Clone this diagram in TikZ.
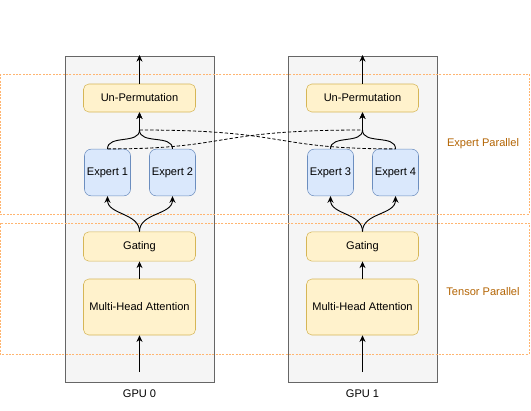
\documentclass[tikz,border=0pt]{standalone}
\usepackage{fontspec}
\setmainfont{Liberation Sans}
\usetikzlibrary{positioning,arrows.meta}
\definecolor{gpufill}{HTML}{F5F5F5}
\definecolor{gpuline}{HTML}{666666}
\definecolor{yelfill}{HTML}{FFF2CC}
\definecolor{yelline}{HTML}{D6B656}
\definecolor{blufill}{HTML}{DAE8FC}
\definecolor{bluline}{HTML}{6C8EBF}
\definecolor{orgline}{HTML}{FFB570}
\definecolor{orgtext}{HTML}{B46504}
\tikzset{
  gpubox/.style={draw=gpuline,fill=gpufill,line width=0.6pt},
  yelbox/.style={draw=yelline,fill=yelfill,rounded corners=4pt,minimum width=84pt,inner sep=0pt},
  expbox/.style={draw=bluline,fill=blufill,rounded corners=5pt,minimum width=34.5pt,minimum height=35pt,inner sep=0pt},
  parbox/.style={draw=orgline,dash pattern=on 1.5pt off 1pt,line width=0.6pt},
  flow/.style={-{Stealth[length=5pt,width=4.5pt]},line width=0.7pt},
  cross/.style={dash pattern=on 2.5pt off 1.5pt,line width=0.6pt},
}
\begin{document}
\begin{tikzpicture}[x=0.75pt,y=-0.75pt,font=\fontsize{8.3}{10}\selectfont]
    \useasboundingbox (0,0) rectangle (531,410);
    \fill[white] (0,0) rectangle (531,410);
    \draw[gpubox] (65,56) rectangle (214,382);%GPU 0
    \draw[gpubox] (288,56) rectangle (437,382);%GPU 1
    \draw[parbox] (0,74) rectangle (529,214);
    \draw[parbox] (0,223) rectangle (529,354);
    \node[text=orgtext] (eplabel) at (483,144) {Expert Parallel};
    \node[text=orgtext] (tplabel) at (483,292) {Tensor Parallel};
    \foreach \g/\c/\a/\b in {0/139.5/1/2,1/362.5/3/4} {
        \node[yelbox,minimum height=21pt] (up\g) at (\c,98) {Un-Permutation};
        \node[expbox] (ea\g) at (\c-32,172.5) {Expert \a};
        \node[expbox] (eb\g) at (\c+33,172.5) {Expert \b};
        \node[yelbox,minimum height=22pt] (gate\g) at (\c,246.5) {Gating};
        \node[yelbox,minimum height=42pt] (mha\g) at (\c,307) {Multi-Head Attention};
        \node (gpu\g) at (\c,394) {GPU \g};
        \coordinate (mg\g) at (\c,130);%merge point
        \coordinate (in\g) at (\c,372);
        \coordinate (out\g) at (\c,55);
        \draw[flow] (in\g) -- (mha\g);
        \draw[flow] (mha\g) -- (gate\g);
        \draw[flow] (gate\g.north) to[out=90,in=-90] (ea\g.south);
        \draw[flow] (gate\g.north) to[out=90,in=-90] (eb\g.south);
        \draw[flow] (ea\g.north) to[out=90,in=-90] (mg\g) -- (up\g);
        \draw[flow] (eb\g.north) to[out=90,in=-90] (mg\g) -- (up\g);
        \draw[flow] (up\g) -- (out\g);
    }
    \draw[cross] (mg0) .. controls (290,130) and (270,149) .. (eb1.north);%to the other GPU
    \draw[cross] (ea0.north) .. controls (231,149) and (211,130) .. (mg1);
\end{tikzpicture}
\end{document}
